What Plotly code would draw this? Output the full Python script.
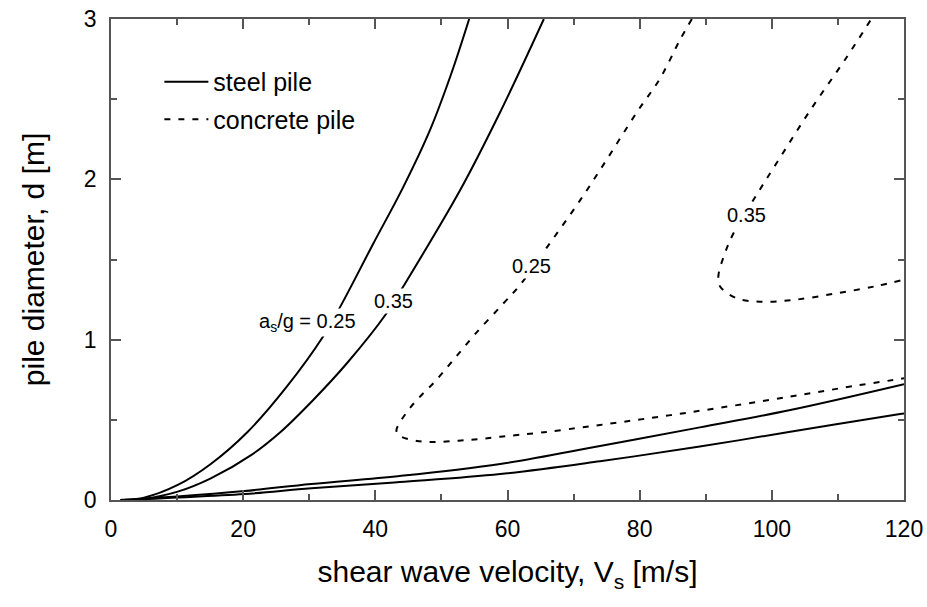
import plotly.graph_objects as go

# Steel pile, a_s/g = 0.25 (upper branch from top down to origin, then lower branch)
steel25_up_x = [54.2, 51.5, 48.3, 44.2, 39.7, 34.7, 32.1, 26.6, 20.7, 15.1, 10.1, 5.0, 1.5]
steel25_up_y = [3.0, 2.66, 2.31, 1.95, 1.60, 1.206, 1.02, 0.707, 0.426, 0.225, 0.094, 0.015, 0.0]
steel25_lo_x = [1.5, 10.0, 20.2, 30.3, 43.7, 58.9, 74.0, 89.1, 102.8, 119.4, 120.0]
steel25_lo_y = [0.0, 0.015, 0.037, 0.073, 0.112, 0.162, 0.242, 0.333, 0.426, 0.536, 0.54]

# Steel pile, a_s/g = 0.35
steel35_up_x = [65.5, 58.9, 52.8, 44.2, 41.7, 35.7, 30.6, 25.7, 21.2, 15.1, 10.1, 5.0, 1.5]
steel35_up_y = [3.0, 2.42, 1.93, 1.33, 1.165, 0.853, 0.624, 0.426, 0.28, 0.135, 0.052, 0.008, 0.0]
steel35_lo_x = [1.5, 10.0, 20.2, 30.3, 43.7, 58.9, 74.0, 89.1, 102.8, 120.0]
steel35_lo_y = [0.0, 0.022, 0.056, 0.10, 0.15, 0.225, 0.337, 0.453, 0.561, 0.722]

# Concrete pile, a_s/g = 0.25
conc25_x = [87.9, 86.1, 83.1, 79.6, 74.5, 71.0, 65.7, 61.9, 59.4, 55.0, 51.6, 49.0, 47.0, 45.0, 43.2,
            43.5, 46.3, 49.3, 52.6, 55.6, 58.9, 65.0, 74.0, 87.6, 102.8, 113.3, 119.4, 120.0]
conc25_y = [3.0, 2.87, 2.63, 2.42, 2.09, 1.87, 1.56, 1.341, 1.227, 1.03, 0.863, 0.738, 0.655, 0.561, 0.437,
            0.405, 0.368, 0.362, 0.37, 0.379, 0.395, 0.42, 0.468, 0.547, 0.645, 0.717, 0.755, 0.76]

# Concrete pile, a_s/g = 0.35
conc35_x = [114.9, 111.3, 105.8, 100.7, 97.2, 94.2, 92.9, 91.9, 92.2, 94.7, 98.2, 103.3, 109.8, 115.9, 120.0]
conc35_y = [2.99, 2.76, 2.43, 2.10, 1.871, 1.664, 1.539, 1.393, 1.33, 1.258, 1.237, 1.248, 1.289, 1.335, 1.375]

labels_text = ["a<sub>s</sub>/g = 0.25", "0.35", "0.25", "0.35"]
labels_x = [29.8, 42.8, 63.7, 96.1]
labels_y = [1.11, 1.24, 1.46, 1.78]

FONT = "Liberation Sans, Arial, sans-serif"
solid = dict(color="black", width=2, shape="spline", smoothing=1.0)
dashed = dict(color="black", width=2, dash="6px,8px", shape="spline", smoothing=1.0)

fig = go.Figure()
fig.add_trace(go.Scatter(x=steel25_up_x + steel25_lo_x[1:], y=steel25_up_y + steel25_lo_y[1:],
                         mode="lines", line=solid, name="steel pile", legendgroup="s", showlegend=True))
fig.add_trace(go.Scatter(x=steel35_up_x + steel35_lo_x[1:], y=steel35_up_y + steel35_lo_y[1:],
                         mode="lines", line=solid, name="steel pile", legendgroup="s", showlegend=False))
fig.add_trace(go.Scatter(x=conc25_x, y=conc25_y, mode="lines", line=dashed,
                         name="concrete pile", legendgroup="c", showlegend=True))
fig.add_trace(go.Scatter(x=conc35_x, y=conc35_y, mode="lines", line=dashed,
                         name="concrete pile", legendgroup="c", showlegend=False))

for t, x, y in zip(labels_text, labels_x, labels_y):
    fig.add_annotation(x=x, y=y, text=t, showarrow=False, bgcolor="white", borderpad=1,
                       font=dict(family=FONT, size=20, color="black"))

axis_common = dict(showgrid=False, zeroline=False, showline=True, linecolor="#555", linewidth=1.5,
                   mirror="ticks", ticks="inside", ticklen=10, tickwidth=1.5, tickcolor="#555",
                   automargin=False, ticklabelstandoff=8, ticklabeloverflow="allow",
                   tickfont=dict(family=FONT, size=23, color="black"))

fig.update_xaxes(range=[0, 120], dtick=20, tick0=0,
                 minor=dict(ticks="inside", ticklen=6, dtick=10, tickcolor="#555", tickwidth=1.5),
                 title=dict(text="shear wave velocity, V<sub>s</sub> [m/s]", font=dict(family=FONT, size=30, color="black"), standoff=20),
                 **axis_common)
fig.update_yaxes(range=[0, 3], dtick=1, tick0=0,
                 minor=dict(ticks="inside", ticklen=6, dtick=0.5, tickcolor="#555", tickwidth=1.5),
                 title=dict(text="pile diameter, d [m]", font=dict(family=FONT, size=30, color="black"), standoff=30),
                 **axis_common)

fig.update_layout(width=927, height=607, margin=dict(l=111, r=23, t=19, b=107, autoexpand=False),
                  plot_bgcolor="white", paper_bgcolor="white",
                  legend=dict(x=0.061, y=0.917, xanchor="left", yanchor="top", bgcolor="rgba(0,0,0,0)",
                              font=dict(family=FONT, size=25, color="black"), itemwidth=44, tracegroupgap=2))

fig.write_html("out.html", config={"displayModeBar": False},
               post_script="document.body.style.margin='0';document.body.style.overflow='hidden';")
